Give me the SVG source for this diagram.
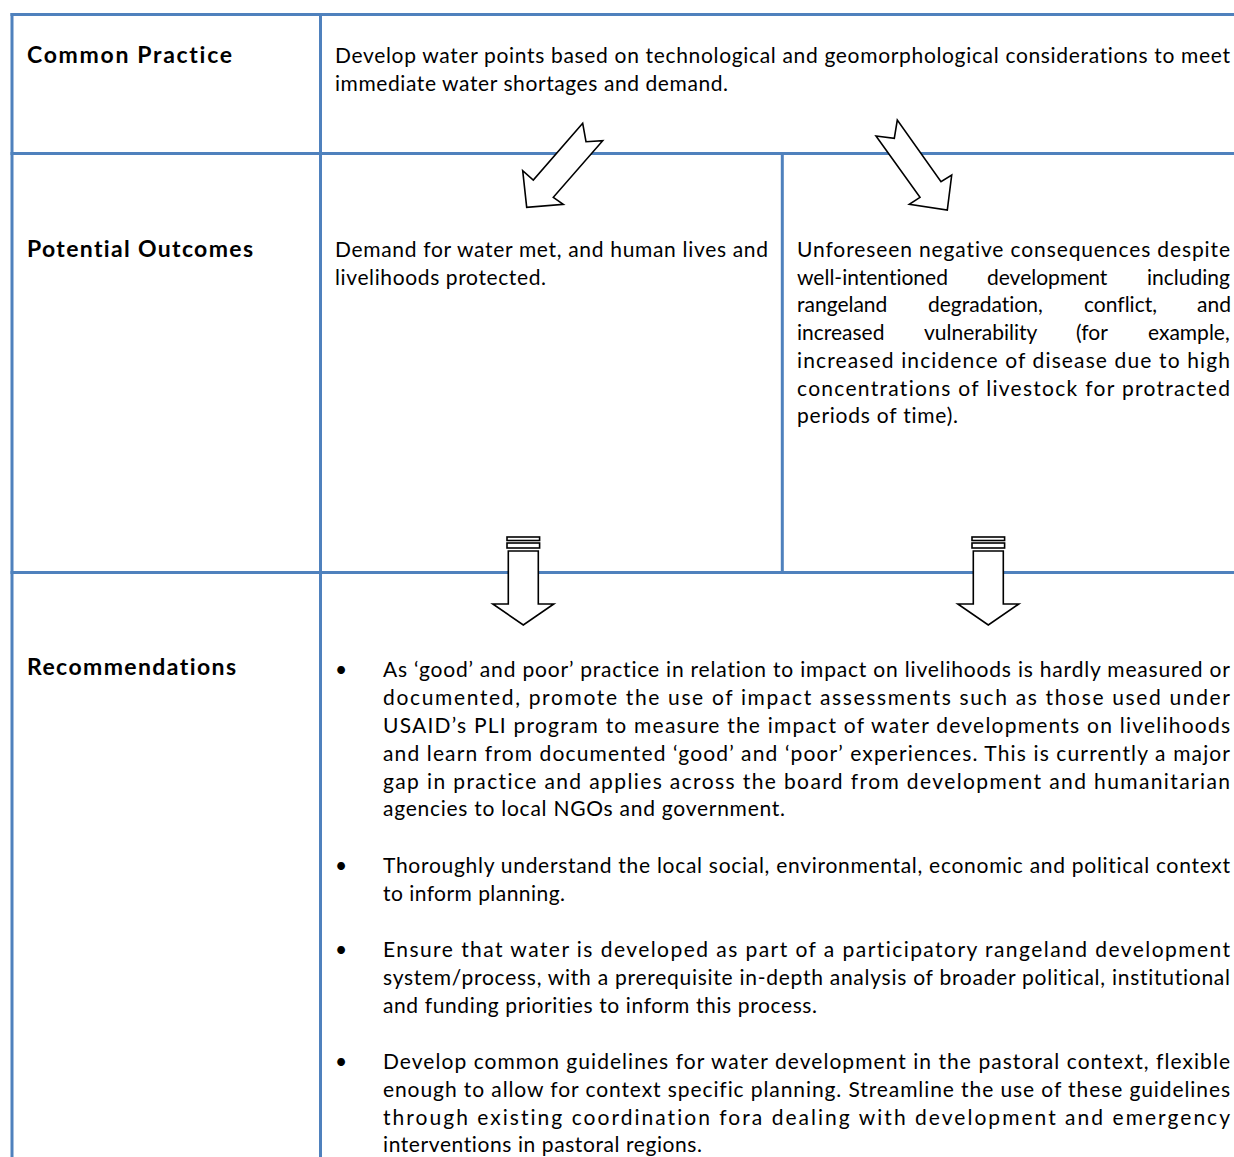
<svg xmlns="http://www.w3.org/2000/svg" width="1234" height="1157" viewBox="0 0 1234 1157">
<style>
.grid{stroke:#4F81BD;stroke-width:3;fill:none}
.t{font-family:Lato,"Open Sans","Liberation Sans",sans-serif;font-size:21px;fill:#000;font-variant-ligatures:none}
.b{font-weight:bold;font-size:23px}
.arr{fill:#fff;stroke:#000;stroke-width:1.6;stroke-linejoin:miter}
</style>
<rect width="1234" height="1157" fill="#fff"/>
<g id="grid">
<line class="grid" x1="10.5" y1="14.5" x2="1234" y2="14.5"/>
<line class="grid" x1="10.5" y1="153.5" x2="1234" y2="153.5"/>
<line class="grid" x1="10.5" y1="572.5" x2="1234" y2="572.5"/>
<line class="grid" x1="12" y1="13" x2="12" y2="1157"/>
<line class="grid" x1="320.5" y1="13" x2="320.5" y2="1157"/>
<line class="grid" x1="782.3" y1="155" x2="782.3" y2="571"/>
</g>
<g id="label-common-practice">
<text class="t b" x="27" y="63" textLength="205" lengthAdjust="spacing">Common Practice</text>
</g>
<g id="common-practice">
<text class="t" x="335" y="63" textLength="895" lengthAdjust="spacing">Develop water points based on technological and geomorphological considerations to meet</text>
<text class="t" x="335" y="90.5" textLength="393" lengthAdjust="spacing">immediate water shortages and demand.</text>
</g>
<g id="label-potential-outcomes">
<text class="t b" x="27" y="257" textLength="226" lengthAdjust="spacing">Potential Outcomes</text>
</g>
<g id="outcome-positive">
<text class="t" x="335" y="257" textLength="433" lengthAdjust="spacing">Demand for water met, and human lives and</text>
<text class="t" x="335" y="284.5" textLength="211" lengthAdjust="spacing">livelihoods protected.</text>
</g>
<g id="outcome-negative">
<text class="t" x="797" y="257" textLength="433" lengthAdjust="spacing">Unforeseen negative consequences despite</text>
<text class="t" y="284.5"><tspan x="797">well-intentioned</tspan> <tspan x="987">development</tspan> <tspan x="1147">including</tspan></text>
<text class="t" y="312"><tspan x="797">rangeland</tspan> <tspan x="928">degradation,</tspan> <tspan x="1084">conflict,</tspan> <tspan x="1197">and</tspan></text>
<text class="t" y="340"><tspan x="797">increased</tspan> <tspan x="924">vulnerability</tspan> <tspan x="1076">(for</tspan> <tspan x="1148">example,</tspan></text>
<text class="t" x="797" y="368" textLength="433" lengthAdjust="spacing">increased incidence of disease due to high</text>
<text class="t" x="797" y="395.5" textLength="433" lengthAdjust="spacing">concentrations of livestock for protracted</text>
<text class="t" x="797" y="423" textLength="161" lengthAdjust="spacing">periods of time).</text>
</g>
<g id="label-recommendations">
<text class="t b" x="27" y="675" textLength="209" lengthAdjust="spacing">Recommendations</text>
</g>
<g id="recommendations">
<text class="t" x="335" y="677">•</text>
<text class="t" x="383" y="677" textLength="847" lengthAdjust="spacing">As ‘good’ and poor’ practice in relation to impact on livelihoods is hardly measured or</text>
<text class="t" x="383" y="705" textLength="847" lengthAdjust="spacing">documented, promote the use of impact assessments such as those used under</text>
<text class="t" x="383" y="733" textLength="847" lengthAdjust="spacing">USAID’s PLI program to measure the impact of water developments on livelihoods</text>
<text class="t" x="383" y="761" textLength="847" lengthAdjust="spacing">and learn from documented ‘good’ and ‘poor’ experiences. This is currently a major</text>
<text class="t" x="383" y="788.5" textLength="847" lengthAdjust="spacing">gap in practice and applies across the board from development and humanitarian</text>
<text class="t" x="383" y="816" textLength="402" lengthAdjust="spacing">agencies to local NGOs and government.</text>
<text class="t" x="335" y="873">•</text>
<text class="t" x="383" y="873" textLength="847" lengthAdjust="spacing">Thoroughly understand the local social, environmental, economic and political context</text>
<text class="t" x="383" y="900.5" textLength="182" lengthAdjust="spacing">to inform planning.</text>
<text class="t" x="335" y="957">•</text>
<text class="t" x="383" y="957" textLength="847" lengthAdjust="spacing">Ensure that water is developed as part of a participatory rangeland development</text>
<text class="t" x="383" y="985" textLength="847" lengthAdjust="spacing">system/process, with a prerequisite in-depth analysis of broader political, institutional</text>
<text class="t" x="383" y="1012.5" textLength="434" lengthAdjust="spacing">and funding priorities to inform this process.</text>
<text class="t" x="335" y="1069">•</text>
<text class="t" x="383" y="1069" textLength="847" lengthAdjust="spacing">Develop common guidelines for water development in the pastoral context, flexible</text>
<text class="t" x="383" y="1097" textLength="847" lengthAdjust="spacing">enough to allow for context specific planning. Streamline the use of these guidelines</text>
<text class="t" x="383" y="1124.5" textLength="847" lengthAdjust="spacing">through existing coordination fora dealing with development and emergency</text>
<text class="t" x="383" y="1152" textLength="319" lengthAdjust="spacing">interventions in pastoral regions.</text>
</g>
<g id="connectors">
<polygon class="arr" points="582.7,123.3 586,141.7 602.7,140.7 553.3,197.3 563.3,204.3 526.7,207.3 522.7,170.7 533.3,180"/>
<polygon class="arr" points="876,136 894.3,138.3 897.3,120 941,181.7 951.7,175 947.3,210 909.3,204.3 920,197.3"/>
<g transform="translate(523.3,0)">
<rect class="arr" x="-16.3" y="537" width="32.6" height="3.5"/>
<rect class="arr" x="-16.3" y="543" width="32.6" height="5"/>
<polygon class="arr" points="-15,551 15,551 15,604 30.5,604 0,625 -30.5,604 -15,604"/>
</g>
<g transform="translate(988.3,0)">
<rect class="arr" x="-16.3" y="537" width="32.6" height="3.5"/>
<rect class="arr" x="-16.3" y="543" width="32.6" height="5"/>
<polygon class="arr" points="-15,551 15,551 15,604 30.5,604 0,625 -30.5,604 -15,604"/>
</g>
</g>
</svg>
